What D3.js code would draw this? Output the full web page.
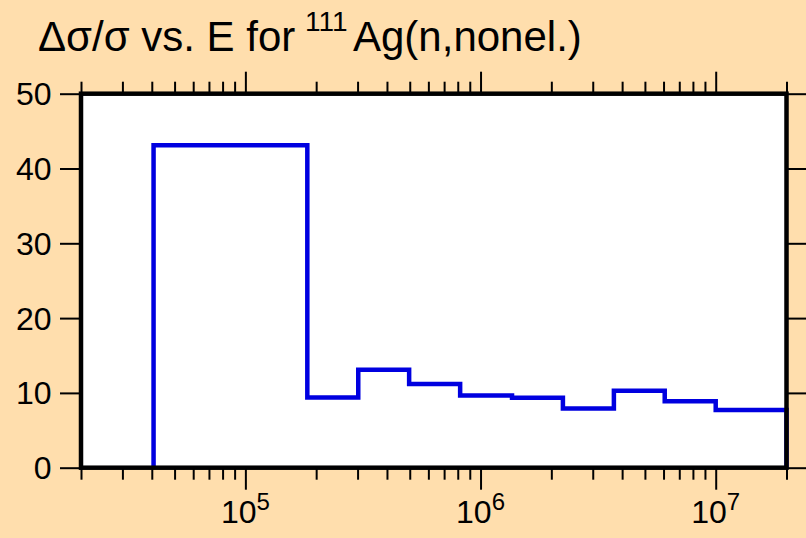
<!DOCTYPE html>
<html>
<head>
<meta charset="utf-8">
<script src="https://cdn.jsdelivr.net/npm/d3@7"></script>
<style>
  html, body { margin: 0; padding: 0; background: #ffdead; }
  svg { display: block; }
  text { font-family: "Liberation Sans", Arial, Helvetica, sans-serif; fill: #000; }
</style>
</head>
<body>
<svg id="chart" width="806" height="538"></svg>
<script>
// Bin edges (eV) and relative uncertainty values (%)
const binEdges = [4.07e4, 6.70e4, 1.113e5, 1.834e5, 3.02e5, 4.97e5, 8.19e5, 1.361e6, 2.24e6, 3.69e6, 6.07e6, 1.0e7, 2.0e7];
const binValues = [43.1, 43.1, 43.1, 9.4, 13.1, 11.2, 9.65, 9.35, 7.9, 10.3, 8.9, 7.7];
const yTicks = [0, 10, 20, 30, 40, 50];
const xMajorExps = [5, 6, 7];
const xDomain = [2e4, 2e7];
const yDomain = [0, 50];

(function () {
const svg = d3.select("#chart");
const W = 806, H = 538;
svg.append("rect").attr("width", W).attr("height", H).attr("fill", "#ffdead");

const pl = 81, pr = 786.5, pt = 93.7, pb = 467.7;
const x = d3.scaleLog().domain(xDomain).range([pl, pr]);
const y = d3.scaleLinear().domain(yDomain).range([pb, pt]);

// plot area
svg.append("rect").attr("x", pl).attr("y", pt)
  .attr("width", pr - pl).attr("height", pb - pt).attr("fill", "#fff");

// step line
const pts = [{e: binEdges[0], v: 0}];
binValues.forEach((v, i) => pts.push({e: binEdges[i], v: v}));
pts.push({e: binEdges[binEdges.length - 1], v: binValues[binValues.length - 1]});
pts.push({e: binEdges[binEdges.length - 1], v: 0});
const line = d3.line().x(d => x(d.e)).y(d => y(d.v)).curve(d3.curveStepAfter);
svg.append("path").attr("d", line(pts)).attr("fill", "none")
  .attr("stroke", "#0000e0").attr("stroke-width", 4.5).attr("stroke-linejoin", "miter");

// x ticks: all 1-9 multiples within domain
const xTickVals = [];
for (let p = 4; p <= 7; p++) for (let m = 1; m <= 9; m++) {
  const v = m * Math.pow(10, p);
  if (v >= xDomain[0] * 0.999 && v <= xDomain[1] * 1.001) xTickVals.push(v);
}
const isMajor = v => Math.abs(Math.log10(v) - Math.round(Math.log10(v))) < 1e-9;

const bAxis = d3.axisBottom(x).tickValues(xTickVals).tickFormat("").tickSizeOuter(0).tickSize(12);
const gB = svg.append("g").attr("transform", `translate(0,${pb})`).call(bAxis);
gB.selectAll(".tick line").attr("y2", d => isMajor(d) ? 22 : 12);
const tAxis = d3.axisTop(x).tickValues(xTickVals).tickFormat("").tickSizeOuter(0).tickSize(12);
const gT = svg.append("g").attr("transform", `translate(0,${pt})`).call(tAxis);
gT.selectAll(".tick line").attr("y2", d => isMajor(d) ? -22 : -12);

const lAxis = d3.axisLeft(y).tickValues(yTicks).tickFormat("").tickSizeOuter(0).tickSize(21);
const gL = svg.append("g").attr("transform", `translate(${pl},0)`).call(lAxis);
const rAxis = d3.axisRight(y).tickValues(yTicks).tickFormat("").tickSizeOuter(0).tickSize(21);
const gR = svg.append("g").attr("transform", `translate(${pr},0)`).call(rAxis);

[gB, gT, gL, gR].forEach(g => {
  g.select(".domain").remove();
  g.selectAll(".tick line").attr("stroke", "#000").attr("stroke-width", 2);
});

// frame
svg.append("rect").attr("x", pl).attr("y", pt)
  .attr("width", pr - pl).attr("height", pb - pt)
  .attr("fill", "none").attr("stroke", "#000").attr("stroke-width", 4.5);

// y labels
svg.append("g").selectAll("text").data(yTicks).join("text")
  .attr("x", 51.5).attr("y", d => y(d)).attr("dy", "0.36em")
  .attr("text-anchor", "end").attr("font-size", 32).text(d => d);

// x labels
const xl = svg.append("g").selectAll("text").data(xMajorExps).join("text")
  .attr("x", d => x(Math.pow(10, d))).attr("y", 522.7)
  .attr("text-anchor", "middle").attr("font-size", 32);
xl.append("tspan").text("10");
xl.append("tspan").attr("font-size", 24).attr("dy", -12.7).text(d => d);

// title
const t = svg.append("text").attr("y", 50.5).attr("font-size", 42);
t.append("tspan").attr("x", 38).text("\u0394\u03c3/\u03c3 vs. E for");
t.append("tspan").attr("x", 305).attr("font-size", 28).attr("dy", -20).text("111");
t.append("tspan").attr("x", 353).attr("dy", 20).text("Ag(n,nonel.)");
})();
</script>
</body>
</html>
